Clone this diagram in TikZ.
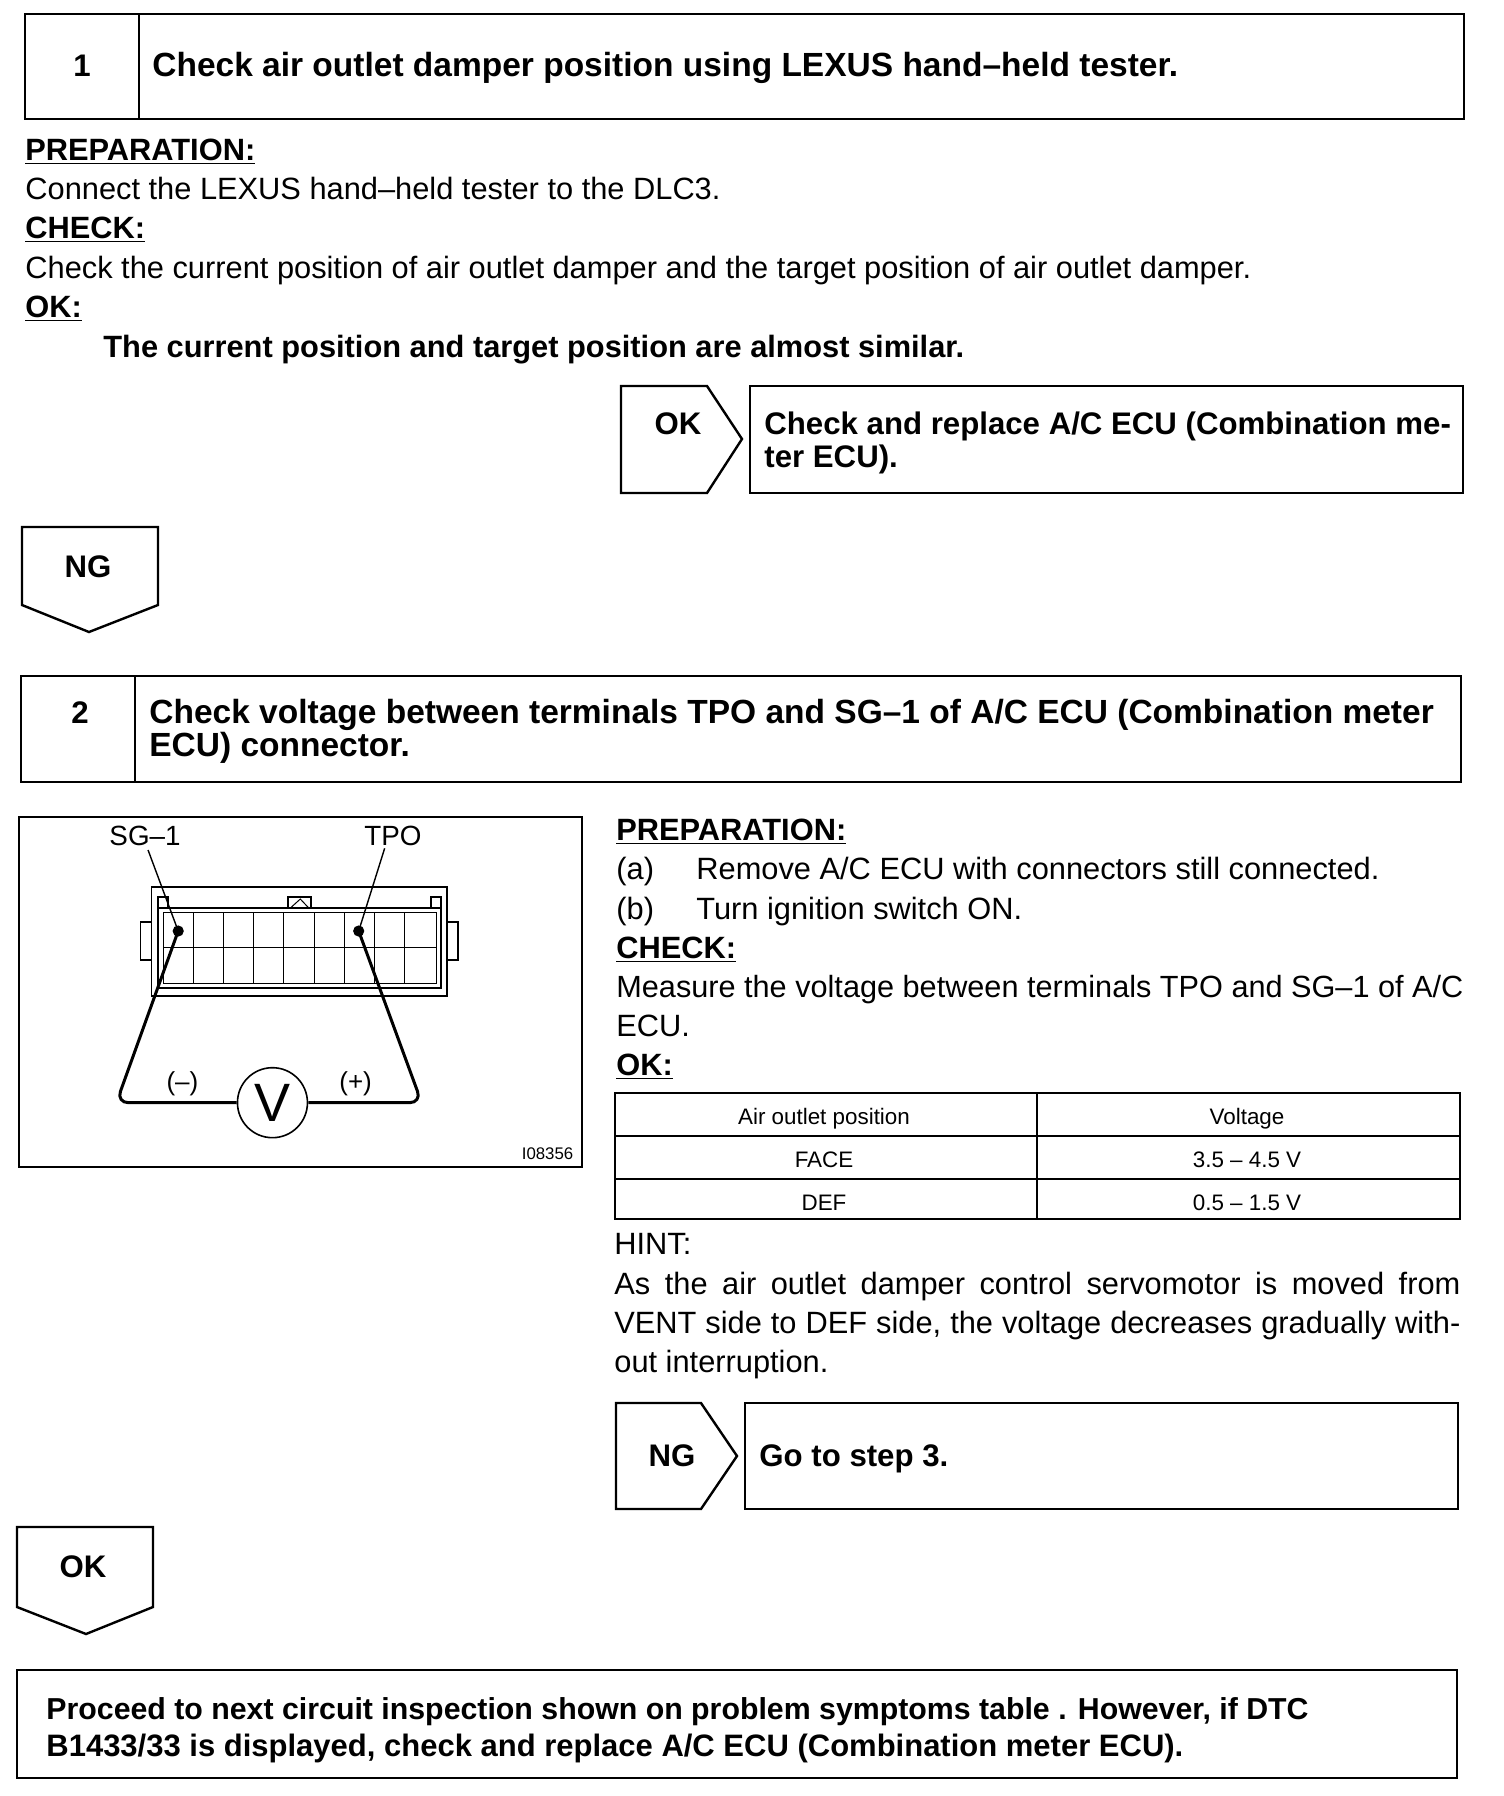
\documentclass[tikz,border=0pt]{standalone}
\usepackage{fontspec}
\setmainfont{Liberation Sans}
\newcommand{\bodysz}{\fontsize{15.4}{19.5}\selectfont}
\newcommand{\headsz}{\fontsize{15.6}{16.5}\selectfont\bfseries}
\newcommand{\titlesz}{\fontsize{16.75}{16.5}\selectfont\bfseries}
\newcommand{\finalsz}{\fontsize{15.15}{18.3}\selectfont\bfseries}
\newcommand{\uhead}[1]{\underline{#1}}
\tikzset{
  box/.style={draw=black,line width=1.2pt},
  tag/.style={draw=black,line width=1.2pt,line join=miter},
  body/.style={inner sep=0pt,anchor=base west,font=\bodysz},
  heading/.style={inner sep=0pt,anchor=base west,font=\bodysz\bfseries},
  bigtext/.style={inner sep=0pt,anchor=west,font=\headsz,align=left},
  titletext/.style={inner sep=0pt,anchor=west,font=\titlesz,align=left},
  tagtext/.style={inner sep=0pt,font=\headsz},
  cell/.style={inner sep=0pt,font=\fontsize{11.2}{13}\selectfont},
  figtext/.style={inner sep=0pt,font=\fontsize{13.9}{15}\selectfont},
  signtext/.style={inner sep=0pt,font=\fontsize{13}{15}\selectfont},
  thinline/.style={draw=black,line width=0.5pt},
  leader/.style={draw=black,line width=0.7pt},
  midline/.style={draw=black,line width=0.9pt},
  wire/.style={draw=black,line width=1.5pt},
  probe/.style={circle,fill=black,inner sep=0pt,minimum size=5.6pt}
}
\begin{document}
\begin{tikzpicture}[x=0.5pt,y=-0.5pt]
\useasboundingbox[fill=white] (0,0) rectangle (1504,1796);

% Step 1
\draw[box] (25,14) rectangle (1464,119);
\draw[box] (139,14) -- (139,119);
\node[tagtext] (n1) at (82,66) {1};
\node[titletext] (t1) at (152,68) {Check air outlet damper position using LEXUS hand--held tester.};

\node[heading] (p1) at (25,160) {\uhead{PREPARATION:}};
\node[body] (p2) at (25,199) {Connect the LEXUS hand--held tester to the DLC3.};
\node[heading] (p3) at (25,238) {\uhead{CHECK:}};
\node[body] (p4) at (25,278) {Check the current position of air outlet damper and the target position of air outlet damper.};
\node[heading] (p5) at (25,317) {\uhead{OK:}};
\node[heading] (p6) at (103,357) {The current position and target position are almost similar.};

\draw[tag] (621,386) -- (707,386) -- (742,439) -- (707,493) -- (621,493) -- cycle;
\node[tagtext] (ok1) at (678,424) {OK};
\draw[box] (750,386) rectangle (1463,493);
\node[bigtext] (r1) at (764,443) {Check and replace A/C ECU (Combination me-\\ter ECU).};

\draw[tag] (22,527) -- (158,527) -- (158,605) -- (89,632) -- (22,605) -- cycle;
\node[tagtext] (ng1) at (88,567) {NG};

% Step 2
\draw[box] (21,676) rectangle (1461,782);
\draw[box] (135,676) -- (135,782);
\node[tagtext] (n2) at (80,713) {2};
\node[titletext] (t2) at (149,731) {Check voltage between terminals TPO and SG--1 of A/C ECU (Combination meter\\ECU) connector.};

% Figure frame
\draw[box] (19,817) rectangle (582,1167);
\begin{scope}[x=0.1908pt,y=-0.16667pt,yshift=-400pt]
  \node[figtext] (sg) at (380,108) {SG--1};
  \node[figtext] (tpo) at (1030,108) {TPO};
  \draw[midline] (397,260) rectangle (1172,588);
  \draw[midline] (415,325) -- (415,290) -- (440,290) -- (440,325);
  \draw[midline] (1130,325) -- (1130,290) -- (1155,290) -- (1155,325);
  \draw[midline] (415,325) rectangle (1155,565);
  \draw[midline] (755,325) -- (755,290) -- (815,290) -- (815,325);
  \draw[thinline] (760,325) -- (787,297) -- (810,325);
  \draw[midline] (368,365) -- (397,365) (368,365) -- (368,480) -- (397,480);
  \draw[midline] (1172,365) -- (1200,365) -- (1200,480) -- (1172,480);
  \draw[thinline] (428,338) rectangle (1143,550);
  \draw[thinline] (428,443) -- (1143,443);
  \foreach \gx in {506,586,665,744,823,902,981,1061} {
    \draw[thinline] (\gx,338) -- (\gx,550);
  }
  \node[probe] (dl) at (467,393) {};
  \node[probe] (dr) at (940,393) {};
  \coordinate (la) at (388,150);
  \coordinate (ra) at (1008,145);
  \draw[leader] (la) -- (dl.center);
  \draw[leader] (ra) -- (dr.center);
  \node[circle,draw=black,line width=0.8pt,fill=white,minimum size=35pt,inner sep=0pt,font=\fontsize{27}{27}\selectfont] (vm) at (714,908) {\raisebox{-2pt}{V}};
  \coordinate (cl) at (305,908);
  \coordinate (cr) at (1105,908);
  \draw[wire,rounded corners=6pt] (dl.center) -- (cl) -- (vm.west);
  \draw[wire,rounded corners=6pt] (dr.center) -- (cr) -- (vm.east);
  \node[signtext] (minus) at (478,851) {(--)};
  \node[signtext] (plus) at (932,851) {(+)};
  \node[inner sep=0pt,font=\fontsize{8.4}{10}\selectfont] (code) at (1435,1060) {I08356};
\end{scope}

% Right column
\node[heading] (q1) at (616,840) {\uhead{PREPARATION:}};
\node[body] (q2) at (616,879) {(a)};
\node[body] (q2b) at (696,879) {Remove A/C ECU with connectors still connected.};
\node[body] (q3) at (616,919) {(b)};
\node[body] (q3b) at (696,919) {Turn ignition switch ON.};
\node[heading] (q4) at (616,958) {\uhead{CHECK:}};
\node[body,font=\fontsize{15.33}{19.5}\selectfont] (q5) at (616,997) {Measure the voltage between terminals TPO and SG--1 of A/C};
\node[body] (q6) at (616,1036) {ECU.};
\node[heading] (q7) at (616,1075) {\uhead{OK:}};

% Table
\draw[box] (615,1093) rectangle (1460,1219);
\draw[box] (1037,1093) -- (1037,1219);
\draw[box] (615,1136) -- (1460,1136);
\draw[box] (615,1179) -- (1460,1179);
\node[cell] (c11) at (824,1119) {Air outlet position};
\node[cell] (c12) at (1247,1119) {Voltage};
\node[cell] (c21) at (824,1160) {FACE};
\node[cell] (c22) at (1247,1160) {3.5 -- 4.5 V};
\node[cell] (c31) at (824,1203) {DEF};
\node[cell] (c32) at (1247,1203) {0.5 -- 1.5 V};

\node[body] (h0) at (614,1254) {HINT:};
\node[anchor=north west,inner sep=0pt,text width=423pt,align=justify,font=\bodysz] (h1) at (614,1272)
  {As the air outlet damper control servomotor is moved from\linebreak VENT side to DEF side, the voltage decreases gradually with-\linebreak out interruption.};

\draw[tag] (616,1403) -- (701,1403) -- (737,1456) -- (701,1509) -- (616,1509) -- cycle;
\node[tagtext] (ng2) at (672,1456) {NG};
\draw[box] (745,1403) rectangle (1458,1509);
\node[bigtext] (r2) at (759,1459) {Go to step 3.};

\draw[tag] (17,1527) -- (153,1527) -- (153,1607) -- (86,1634) -- (17,1607) -- cycle;
\node[tagtext] (ok2) at (83,1567) {OK};

\draw[box] (17,1670) rectangle (1457,1778);
\node[inner sep=0pt,anchor=west,align=left,font=\finalsz] (f1) at (46,1730) {Proceed to next circuit inspection shown on problem symptoms table . However, if DTC\\{\fontsize{15.5}{18.3}\selectfont B1433/33 is displayed, check and replace A/C ECU (Combination meter ECU).}};
\end{tikzpicture}
\end{document}
